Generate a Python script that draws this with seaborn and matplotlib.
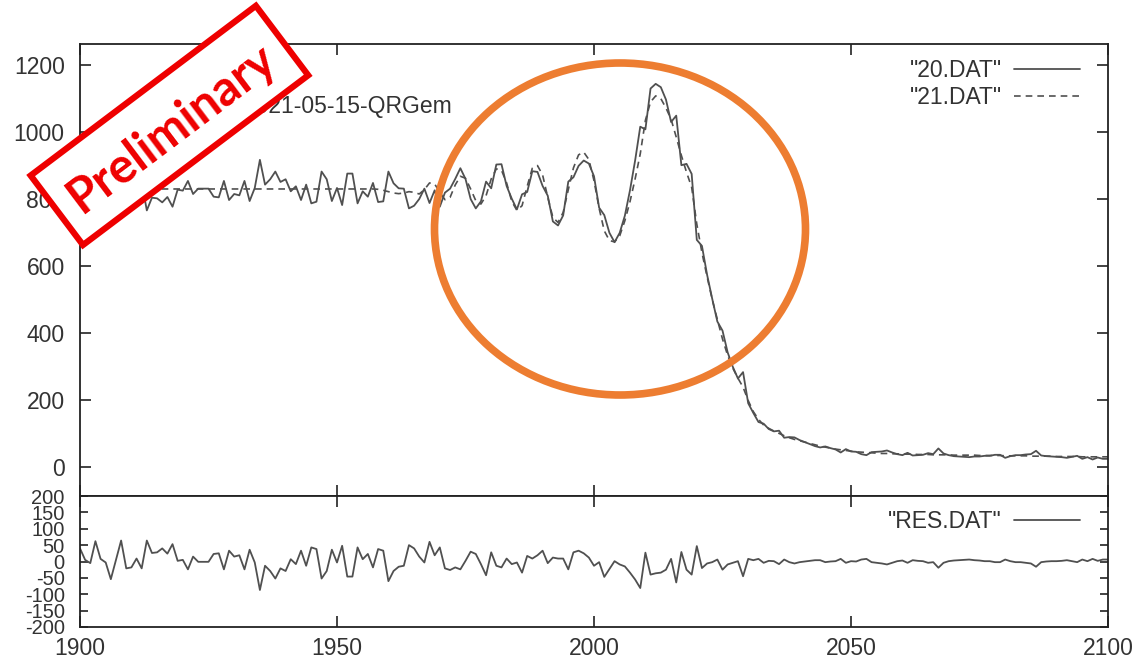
import matplotlib
matplotlib.use("Agg")
import matplotlib.pyplot as plt
import seaborn as sns
import pandas as pd
from matplotlib.patches import Ellipse, Rectangle

# ---------------- data ----------------
years = list(range(1900, 2101))

fit21 = [
    830, 830, 830, 830, 830, 830, 830, 830, 830, 830,   # 1900
    830, 830, 830, 830, 830, 830, 830, 830, 830, 830,   # 1910
    830, 830, 830, 830, 830, 830, 830, 830, 830, 830,   # 1920
    830, 830, 830, 830, 830, 830, 830, 830, 830, 830,   # 1930
    830, 830, 830, 830, 830, 830, 830, 830, 830, 830,   # 1940
    830, 830, 830, 830, 830, 830, 830, 830, 829, 826,   # 1950
    822, 818, 816, 818, 822, 820, 815, 828, 848, 845,   # 1960
    820, 798, 805, 842, 868, 862, 830, 795, 785, 810,   # 1970
    860, 890, 886, 848, 793, 766, 780, 838, 892, 900,   # 1980
    872, 805, 745, 730, 760, 828, 893, 932, 940, 918,   # 1990
    855, 772, 705, 676, 672, 690, 735, 792, 860, 935,   # 2000
    1035, 1090, 1108, 1100, 1072, 1038, 985, 930, 880, 835,  # 2010
    725, 640, 568, 500, 440, 382, 333, 295, 265, 238,   # 2020
    198, 165, 142, 125, 115, 107, 100, 93, 87, 82,      # 2030
    78, 74, 70, 66, 62, 59, 56, 53, 51, 49,             # 2040
    47, 45, 44, 43, 42, 41, 40, 40, 39, 39,             # 2050
    38, 38, 38, 37, 37, 37, 36, 36, 36, 36,             # 2060
    35, 35, 35, 35, 35, 34, 34, 34, 34, 34,             # 2070
    33, 33, 33, 33, 33, 32, 32, 32, 32, 32,             # 2080
    31, 31, 31, 31, 31, 30, 30, 30, 30, 30,             # 2090
    30,                                                 # 2100
]

data20 = [
    790, 825, 835, 768, 822, 833, 884, 825, 766, 851,   # 1900
    848, 821, 851, 766, 804, 802, 790, 806, 777, 828,   # 1910
    825, 854, 815, 831, 831, 831, 807, 805, 854, 797,   # 1920
    815, 811, 854, 794, 833, 917, 843, 859, 882, 851,   # 1930
    859, 823, 838, 797, 843, 787, 792, 882, 859, 794,   # 1940
    833, 782, 876, 876, 787, 823, 807, 848, 791, 793,   # 1950
    882, 847, 832, 831, 772, 780, 800, 831, 788, 826,   # 1960
    777, 819, 831, 860, 892, 860, 800, 772, 793, 852,   # 1970
    832, 903, 904, 839, 801, 769, 814, 821, 883, 881,   # 1980
    839, 810, 733, 721, 751, 852, 865, 899, 915, 906,   # 1990
    868, 774, 752, 699, 671, 699, 750, 826, 915, 1016,  # 2000
    1008, 1130, 1144, 1134, 1097, 1030, 1049, 901, 905, 875,  # 2010
    678, 660, 574, 502, 434, 407, 342, 299, 264, 283,   # 2020
    190, 161, 134, 129, 113, 106, 108, 87, 89, 88,      # 2030
    80, 74, 68, 62, 58, 61, 56, 52, 43, 53,             # 2040
    46, 45, 38, 35, 44, 45, 46, 49, 43, 38,             # 2050
    35, 42, 34, 35, 36, 41, 38, 55, 40, 35,             # 2060
    32, 31, 30, 29, 31, 31, 33, 33, 36, 36,             # 2070
    27, 32, 35, 35, 37, 38, 48, 34, 32, 31,             # 2080
    30, 29, 27, 30, 33, 24, 29, 22, 28, 24,             # 2090
    24,                                                 # 2100
]

res = [
    40, 5, -5, 62, 8, -3, -54, 5, 64, -21,              # 1900
    -18, 9, -21, 64, 26, 28, 40, 24, 53, 2,             # 1910
    5, -24, 15, -1, -1, -1, 23, 25, -24, 33,            # 1920
    15, 19, -24, 36, -3, -87, -13, -29, -52, -21,       # 1930
    -29, 7, -8, 33, -13, 43, 38, -52, -29, 36,          # 1940
    -3, 48, -46, -46, 43, 7, 23, -18, 38, 33,           # 1950
    -60, -29, -16, -13, 50, 40, 15, -3, 60, 19,         # 1960
    43, -21, -26, -18, -24, 2, 30, 23, -8, -42,         # 1970
    28, -13, -18, 9, -8, -3, -34, 17, 9, 19,            # 1980
    33, -5, 12, 9, 9, -24, 28, 33, 25, 12,              # 1990
    -13, -2, -47, -23, 1, -9, -15, -34, -55, -81,       # 2000
    27, -40, -36, -34, -25, 8, -64, 29, -25, -40,       # 2010
    47, -20, -6, -2, 6, -25, -9, -4, 1, -45,            # 2020
    8, 4, 8, -4, 2, 1, -8, 6, -2, -6,                   # 2030
    -2, 0, 2, 4, 4, -2, 0, 1, 8, -4,                    # 2040
    1, 0, 6, 8, -2, -4, -6, -9, -4, 1,                  # 2050
    3, -4, 4, 2, 1, -4, -2, -19, -4, 1,                 # 2060
    3, 4, 5, 6, 4, 3, 1, 1, -2, -2,                     # 2070
    6, 1, -2, -2, -4, -6, -16, -2, 0, 1,                # 2080
    1, 2, 4, 1, -2, 6, 1, 8, 2, 6,                      # 2090
    6,                                                  # 2100
]

main_labels = ['"20.DAT"', '"21.DAT"']
res_label = '"RES.DAT"'
annotation_text = "2021-05-15-QRGem"
stamp_text = "Preliminary"
x_ticks = [1900, 1950, 2000, 2050, 2100]
main_y_ticks = [0, 200, 400, 600, 800, 1000, 1200]
res_y_ticks = [-200, -150, -100, -50, 0, 50, 100, 150, 200]

# ---------------- style ----------------
sns.set_theme(style="white")
plt.rcParams['font.family'] = ['Liberation Sans', 'DejaVu Sans']
plt.rcParams['axes.unicode_minus'] = False

LINE = "#505050"
TXT = "#333333"
FS = 16.5

W, H = 1140, 665
fig = plt.figure(figsize=(W / 100, H / 100), dpi=100)


def px_rect(l, t, r, b):
    return [l / W, 1 - b / H, (r - l) / W, (b - t) / H]


ax1 = fig.add_axes(px_rect(80, 44, 1108, 496))
ax2 = fig.add_axes(px_rect(80, 496, 1108, 627))

df20 = pd.DataFrame({"year": years, "value": data20})
df21 = pd.DataFrame({"year": years, "value": fit21})
dfres = pd.DataFrame({"year": years, "value": res})

sns.lineplot(data=df20, x="year", y="value", ax=ax1, color=LINE, lw=1.3,
             label=main_labels[0])
sns.lineplot(data=df21, x="year", y="value", ax=ax1, color=LINE, lw=1.2,
             linestyle=(0, (4, 3)), label=main_labels[1])
sns.lineplot(data=dfres, x="year", y="value", ax=ax2, color=LINE, lw=1.3,
             label=res_label)

for ax in (ax1, ax2):
    ax.set_xlim(1900, 2100)
    ax.set_xticks(x_ticks)
    ax.set_xlabel("")
    ax.set_ylabel("")
    ax.set_facecolor("white")
    for s in ax.spines.values():
        s.set_color("#222222")
        s.set_linewidth(1.3)
    ax.grid(False)

ax1.set_ylim(-87, 1263)
ax1.set_yticks(main_y_ticks)
ax1.set_yticklabels([str(v) for v in main_y_ticks])
ax1.tick_params(axis="both", direction="in", length=8, width=1.2, color="#222222",
                top=True, right=True, bottom=True, left=True,
                labelbottom=False, labelsize=FS, labelcolor=TXT, pad=11)

ax2.set_ylim(-200, 200)
ax2.set_yticks(res_y_ticks)
ax2.set_yticklabels([str(v) for v in res_y_ticks])
ax2.set_xticklabels([str(v) for v in x_ticks])
ax2.tick_params(axis="y", direction="in", length=6, width=1.2, color="#222222",
                left=True, right=True, labelsize=14.5, labelcolor=TXT, pad=11)
ax2.tick_params(axis="x", direction="in", length=8, width=1.2, color="#222222",
                top=True, bottom=True, labelsize=FS, labelcolor=TXT, pad=7)

leg1 = ax1.legend(loc="upper right", bbox_to_anchor=(0.9728, 0.967),
                  frameon=False, markerfirst=False, fontsize=FS,
                  handlelength=2.9, handletextpad=0.5, borderpad=0,
                  borderaxespad=0, labelspacing=0.2)
for t in leg1.get_texts():
    t.set_color(TXT)
leg2 = ax2.legend(loc="upper right", bbox_to_anchor=(0.9728, 0.895),
                  frameon=False, markerfirst=False, fontsize=FS,
                  handlelength=2.9, handletextpad=0.5, borderpad=0,
                  borderaxespad=0)
for t in leg2.get_texts():
    t.set_color(TXT)

ax1.text(0.1595, 0.862, annotation_text, transform=ax1.transAxes,
         ha="left", va="center", fontsize=FS, color=TXT)

# ---------------- overlay: stamp and circle ----------------
ov = fig.add_axes([0, 0, 1, 1], zorder=10)
ov.set_xlim(0, W)
ov.set_ylim(0, H)
ov.axis("off")
ov.patch.set_alpha(0)

ov.add_patch(Ellipse((620, H - 229), 371, 332, fill=False,
                     edgecolor="#ED7D31", lw=5.5))
ov.add_patch(Rectangle((83, H - 245), 282, 87, angle=37,
                       facecolor="white", edgecolor="#EE0000", lw=4.5))
ov.text(171, H - 129, stamp_text, rotation=37, rotation_mode="anchor",
        ha="center", va="center", color="#EE0000", fontsize=35,
        fontweight="bold", family=["Lato", "DejaVu Sans"])

fig.savefig("out.png", dpi=100)
